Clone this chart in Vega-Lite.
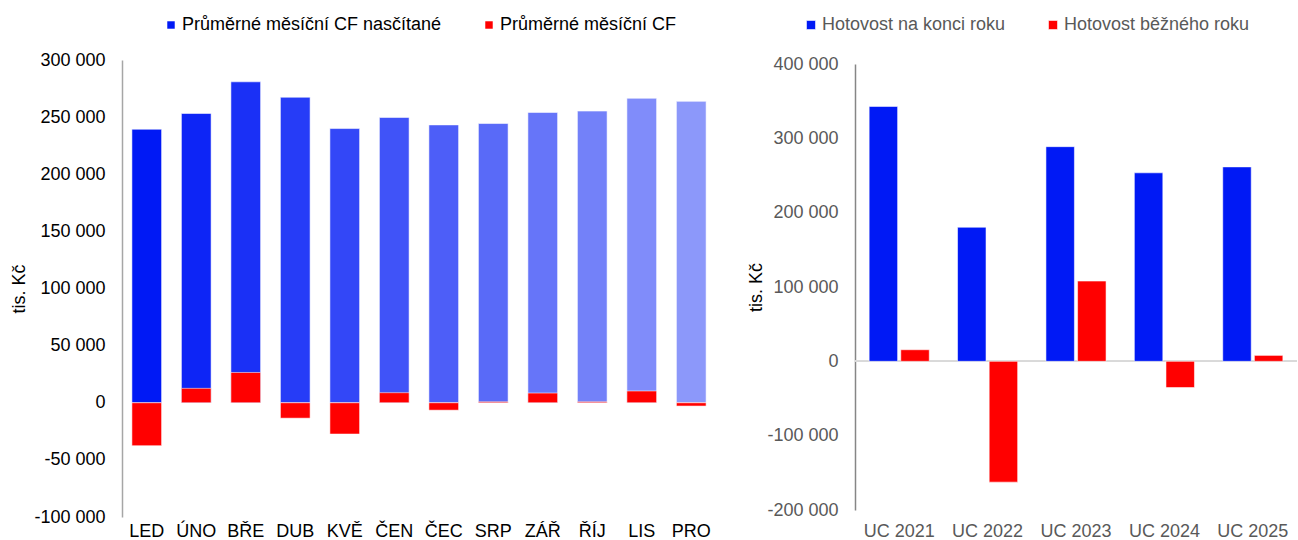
{
  "$schema": "https://vega.github.io/schema/vega-lite/v6.json",
  "padding": {"left": 10, "top": 16, "right": 0, "bottom": 0},
  "spacing": 31,
  "config": {
    "view": {"stroke": null},
    "font": "Liberation Sans",
    "bar": {"stroke": "white", "strokeWidth": 1, "strokeOpacity": 0.55}
  },
  "hconcat": [
    {
      "width": 594,
      "height": 457,
      "data": {
        "values": [
          {"month": "LED", "cum": 239400, "cf": -37600},
          {"month": "ÚNO", "cum": 253200, "cf": 12600},
          {"month": "BŘE", "cum": 280900, "cf": 26500},
          {"month": "DUB", "cum": 267400, "cf": -13500},
          {"month": "KVĚ", "cum": 240000, "cf": -27400},
          {"month": "ČEN", "cum": 249700, "cf": 8800},
          {"month": "ČEC", "cum": 243200, "cf": -6500},
          {"month": "SRP", "cum": 244400, "cf": 900},
          {"month": "ZÁŘ", "cum": 254100, "cf": 8500},
          {"month": "ŘÍJ", "cum": 255300, "cf": 900},
          {"month": "LIS", "cum": 266500, "cf": 10300},
          {"month": "PRO", "cum": 263800, "cf": -2900}
        ]
      },
      "encoding": {
        "x": {
          "field": "month",
          "type": "nominal",
          "sort": null,
          "scale": {"paddingInner": 0.4, "paddingOuter": 0.2},
          "axis": {
            "title": null,
            "labelAngle": 0,
            "labelFontSize": 18,
            "labelColor": "#000000",
            "labelPadding": 5,
            "ticks": false,
            "domain": false
          }
        }
      },
      "layer": [
        {
          "mark": {"type": "bar"},
          "encoding": {
            "y": {
              "field": "cum",
              "type": "quantitative",
              "scale": {"domain": [-100000, 300000], "nice": false},
              "axis": {
                "title": "tis. Kč",
                "titleFontSize": 18,
                "titleFontWeight": "normal",
                "titleColor": "#000000",
                "titlePadding": 5,
                "values": [-100000, -50000, 0, 50000, 100000, 150000, 200000, 250000, 300000],
                "labelExpr": "replace(replace(format(datum.value, ','), regexp(',', 'g'), ' '), '−', '-')",
                "labelFontSize": 18,
                "labelColor": "#000000",
                "labelPadding": 17,
                "ticks": false,
                "grid": false,
                "domainColor": "#a6a6a6",
                "domainWidth": 1.5
              }
            },
            "color": {
              "field": "month",
              "type": "nominal",
              "sort": null,
              "scale": {
                "domain": ["LED", "ÚNO", "BŘE", "DUB", "KVĚ", "ČEN", "ČEC", "SRP", "ZÁŘ", "ŘÍJ", "LIS", "PRO"],
                "range": ["#0019F5", "#0D25F6", "#1A30F6", "#263CF7", "#3347F7", "#4053F8", "#4D5EF8", "#596AF8", "#6675F9", "#7381F9", "#808CFA", "#8C98FA"]
              },
              "legend": null
            }
          }
        },
        {
          "mark": {"type": "bar"},
          "encoding": {
            "y": {"field": "cf", "type": "quantitative"},
            "color": {
              "datum": "Průměrné měsíční CF",
              "type": "nominal",
              "scale": {
                "domain": ["Průměrné měsíční CF nasčítané", "Průměrné měsíční CF"],
                "range": ["#0019F5", "#FF0000"]
              },
              "legend": {
                "title": null,
                "orient": "none",
                "legendX": 40,
                "legendY": -44,
                "direction": "horizontal",
                "symbolType": "square",
                "symbolSize": 64,
                "symbolStrokeWidth": 0,
                "labelFontSize": 18,
                "labelColor": "#000000",
                "labelOffset": 2,
                "labelLimit": 500,
                "columnPadding": 38
              }
            }
          }
        },
        {
          "mark": {"type": "rule", "color": "#8c8c8c", "strokeWidth": 1.5},
          "encoding": {"y": {"datum": 0}}
        }
      ],
      "resolve": {"scale": {"color": "independent"}, "legend": {"color": "independent"}}
    },
    {
      "width": 442,
      "height": 450,
      "data": {
        "values": [
          {"year": "UC 2021", "series": "Hotovost na konci roku", "value": 342900},
          {"year": "UC 2021", "series": "Hotovost běžného roku", "value": 15600},
          {"year": "UC 2022", "series": "Hotovost na konci roku", "value": 180400},
          {"year": "UC 2022", "series": "Hotovost běžného roku", "value": -162500},
          {"year": "UC 2023", "series": "Hotovost na konci roku", "value": 288800},
          {"year": "UC 2023", "series": "Hotovost běžného roku", "value": 108000},
          {"year": "UC 2024", "series": "Hotovost na konci roku", "value": 253600},
          {"year": "UC 2024", "series": "Hotovost běžného roku", "value": -35300},
          {"year": "UC 2025", "series": "Hotovost na konci roku", "value": 261600},
          {"year": "UC 2025", "series": "Hotovost běžného roku", "value": 8000}
        ]
      },
      "layer": [
        {
          "mark": {"type": "rule", "color": "#d9d9d9", "strokeWidth": 1.5},
          "encoding": {"y": {"datum": 0, "type": "quantitative"}}
        },
        {
          "mark": {"type": "bar"},
          "encoding": {
            "x": {
              "field": "year",
              "type": "nominal",
              "sort": null,
              "scale": {"paddingInner": 0.32, "paddingOuter": 0.16},
              "axis": {
                "title": null,
                "labelAngle": 0,
                "labelFontSize": 18,
                "labelColor": "#595959",
                "labelPadding": 12,
                "ticks": false,
                "domain": false
              }
            },
            "xOffset": {
              "field": "series",
              "type": "nominal",
              "sort": ["Hotovost na konci roku", "Hotovost běžného roku"],
              "scale": {"paddingInner": 0.1, "paddingOuter": 0}
            },
            "y": {
              "field": "value",
              "type": "quantitative",
              "scale": {"domain": [-200000, 400000], "nice": false, "range": [450, 4]},
              "axis": {
                "title": "tis. Kč",
                "titleFontSize": 18,
                "titleFontWeight": "normal",
                "titleColor": "#000000",
                "titlePadding": 1,
                "values": [-200000, -100000, 0, 100000, 200000, 300000, 400000],
                "labelExpr": "replace(replace(format(datum.value, ','), regexp(',', 'g'), ' '), '−', '-')",
                "labelFontSize": 18,
                "labelColor": "#595959",
                "labelPadding": 17,
                "ticks": false,
                "grid": false,
                "domainColor": "#868686",
                "domainWidth": 1.5
              }
            },
            "color": {
              "field": "series",
              "type": "nominal",
              "sort": ["Hotovost na konci roku", "Hotovost běžného roku"],
              "scale": {
                "domain": ["Hotovost na konci roku", "Hotovost běžného roku"],
                "range": ["#0019F5", "#FF0000"]
              },
              "legend": {
                "title": null,
                "orient": "none",
                "legendX": 680,
                "legendY": -44,
                "direction": "horizontal",
                "symbolType": "square",
                "symbolSize": 81,
                "symbolStrokeWidth": 0,
                "labelFontSize": 18,
                "labelColor": "#595959",
                "labelOffset": 2,
                "labelLimit": 500,
                "columnPadding": 38
              }
            }
          }
        }
      ]
    }
  ]
}
